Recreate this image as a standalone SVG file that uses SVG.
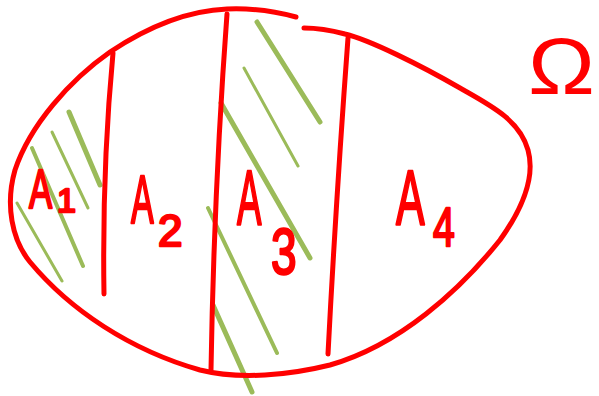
<svg xmlns="http://www.w3.org/2000/svg" width="599" height="396" viewBox="0 0 599 396">
<style>
.red{fill:none;stroke:#ff0000;stroke-width:5;stroke-linecap:round;stroke-linejoin:round}
.g{fill:none;stroke:#9bbb59;stroke-linecap:round}
.lbl{font-family:"Liberation Sans",Arial,sans-serif;fill:#ff0000;stroke:#ff0000;stroke-width:2.5;stroke-linejoin:round}
.thin{stroke:none}
</style>
<rect width="599" height="396" fill="#ffffff"/>
<g id="hatching">
<path class="g" stroke-width="5" d="M257,22 L320,122"/>
<path class="g" stroke-width="3" d="M244,68 L298,166"/>
<path class="g" stroke-width="5" d="M221,103 L310,258"/>
<path class="g" stroke-width="4" d="M208,208 L277,353"/>
<path class="g" stroke-width="5" d="M213,305 L252,392"/>
<path class="g" stroke-width="5" d="M69,112 L100,185"/>
<path class="g" stroke-width="3" d="M52,132 L88,208"/>
<path class="g" stroke-width="4" d="M32,148 L83,266"/>
<path class="g" stroke-width="3" d="M17,203 L62,281"/>
</g>
<g id="omega-set">
<path class="red" d="M296,17 C270,10 250,8 227,9 C180,11 140,32 110,52 C70,80 30,125 15,170 C5,205 12,240 30,262 C70,310 130,350 200,370 C240,380 290,375 330,365 C400,345 460,290 500,240 C525,205 535,175 528,150 C520,120 490,105 460,88 C420,65 370,40 345,34 C330,30 315,28 304,28"/>
</g>
<g id="dividers">
<path class="red" d="M113,53 Q102,170 104,294"/>
<path class="red" d="M227,14 Q214,190 211,370"/>
<path class="red" d="M348,38 Q336,200 328,354"/>
</g>
<g id="A1">
<text class="lbl" font-size="56" transform="translate(29,208) scale(0.62,1)">A</text>
<text class="lbl" font-size="34" x="57" y="212">1</text>
</g>
<g id="A2">
<text class="lbl" font-size="68" transform="translate(131,223) scale(0.5,1)">A</text>
<text class="lbl" font-size="44" x="158" y="246">2</text>
</g>
<g id="A3">
<text class="lbl" font-size="78" transform="translate(237,225) scale(0.47,1)">A</text>
<text class="lbl" font-size="64" transform="translate(271,274) scale(0.72,1)">3</text>
</g>
<g id="A4">
<text class="lbl" font-size="78" transform="translate(396,225) scale(0.55,1)">A</text>
<text class="lbl" font-size="56" transform="translate(433,246) scale(0.7,1)">4</text>
</g>
<g id="Omega">
<text class="lbl thin" font-size="80" transform="translate(528,94) scale(1.12,1)">Ω</text>
</g>
</svg>
